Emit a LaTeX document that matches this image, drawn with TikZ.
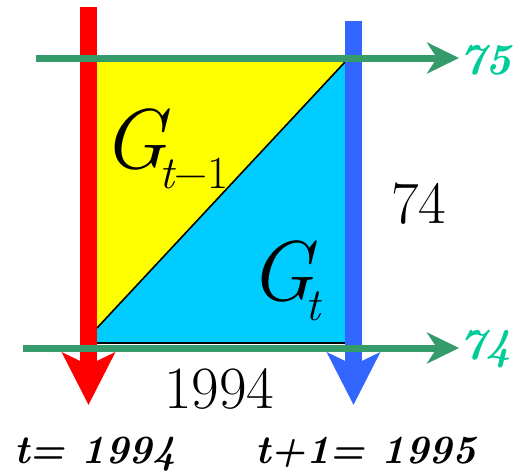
\documentclass[tikz,border=0pt]{standalone}
\usepackage{fontspec}
\usetikzlibrary{arrows.meta}
\definecolor{cred}{HTML}{FF0000}
\definecolor{cblue}{HTML}{3366FF}
\definecolor{cgreen}{HTML}{369B6B}
\definecolor{cyel}{HTML}{FFFF00}
\definecolor{ccyan}{HTML}{00CCFF}
\definecolor{cteal}{HTML}{00CC99}
\tikzset{
  vbar/.style={line width=17pt, -{Stealth[length=52pt,width=52pt,inset=12pt]}},
  hbar/.style={line width=7pt, draw=cgreen, -{Stealth[length=32pt,width=31pt,inset=10pt]}},
  lbl/.style={inner sep=0pt, anchor=base west},
  yearlbl/.style={lbl, text=cteal, font=\fontsize{44}{44}\selectfont\bfseries\itshape},
  timelbl/.style={lbl, font=\fontsize{40}{40}\selectfont\bfseries\itshape},
  numlbl/.style={lbl, font=\fontsize{60}{60}\selectfont},
  biglbl/.style={lbl, font=\fontsize{85}{85}\selectfont\itshape},
  sublbl/.style={lbl, font=\fontsize{46}{46}\selectfont\itshape},
}
\begin{document}
\begin{tikzpicture}[x=1pt,y=-1pt]
\useasboundingbox (0,0) rectangle (513,472);
% corners
\coordinate (tl) at (97,58);
\coordinate (tr) at (345,58);
\coordinate (bl) at (97,343);
\coordinate (br) at (345,343);
\coordinate (dl) at (97,328);
\coordinate (dr) at (345,62);
% fills
\fill[cyel] (tl) rectangle (br);
\fill[ccyan] (dl) -- (dr) -- (br) -- (bl) -- cycle;
\draw[line width=1.6pt] (dl) -- (dr);
\draw[line width=2.2pt] (bl) -- (br);
% vertical arrows
\coordinate (rs) at (88.5,7);
\coordinate (re) at (88.5,405);
\coordinate (bs) at (353.5,21);
\coordinate (be) at (353.5,405);
\draw[vbar, draw=cred, fill=cred] (rs) -- (re);
\draw[vbar, draw=cblue, fill=cblue] (bs) -- (be);
% horizontal arrows
\coordinate (gs1) at (36,58);
\coordinate (ge1) at (459,58);
\coordinate (gs2) at (23,348);
\coordinate (ge2) at (459,348);
\draw[hbar, fill=cgreen] (gs1) -- (ge1);
\draw[hbar, fill=cgreen] (gs2) -- (ge2);
% labels
\node[biglbl] (g1) at (102,168) {G};
\node[sublbl] (g1s) at (159,188) {t\upshape −1};
\node[biglbl] (g2) at (249,300) {G};
\node[sublbl] (g2s) at (305,320) {t};
\node[numlbl] (n74) at (391,223) {74};
\node[numlbl] (n1994) at (164,408) {1994};
\node[yearlbl] (y75) at (459,74) {75};
\node[yearlbl] (y74) at (459,359) {74};
\node[timelbl] (t0) at (14,463) {t= 1994};
\node[timelbl] (t1) at (255,463) {t+1= 1995};
\end{tikzpicture}
\end{document}
